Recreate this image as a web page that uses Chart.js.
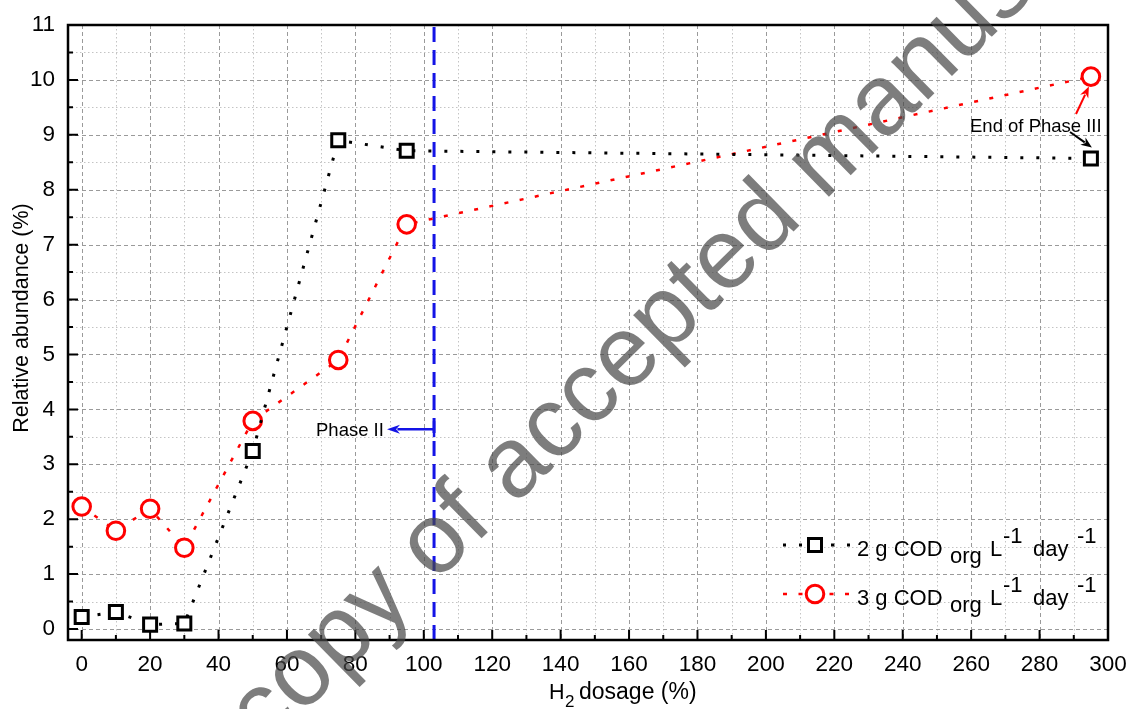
<!DOCTYPE html>
<html>
<head>
<meta charset="utf-8">
<script src="https://cdn.jsdelivr.net/npm/chart.js@4.4.1/dist/chart.umd.min.js"></script>
<style>
html,body{margin:0;padding:0;background:#fff;}
#wrap{width:1132px;height:709px;}
</style>
</head>
<body>
<div id="wrap"><canvas id="h2Chart" width="1132" height="709"></canvas></div>
<script>
// =========================================
// DATA
// =========================================

const dosage2g = [0, 10, 20, 30, 50, 75, 95, 295];
const abundance2g = [0.22, 0.31, 0.08, 0.10, 3.24, 8.90, 8.71, 8.57];

const dosage3g = [0, 10, 20, 30, 50, 75, 95, 295];
const abundance3g = [2.23, 1.79, 2.19, 1.48, 3.79, 4.90, 7.37, 10.06];

const xTickValues = [0,20,40,60,80,100,120,140,160,180,200,220,240,260,280,300];
const yTickValues = [0,1,2,3,4,5,6,7,8,9,10,11];

const phaseLineDosage = 103;

const FONT = "'Liberation Sans', Arial, sans-serif";

Chart.defaults.font.family = FONT;

// =========================================
// HELPERS
// =========================================

function arrow(ctx, x1, y1, x2, y2, color, width, headLen, headW){
    const a = Math.atan2(y2 - y1, x2 - x1);
    ctx.save();
    ctx.strokeStyle = color;
    ctx.fillStyle = color;
    ctx.lineWidth = width;
    ctx.setLineDash([]);
    ctx.beginPath();
    ctx.moveTo(x1, y1);
    ctx.lineTo(x2 - Math.cos(a) * headLen * 0.8, y2 - Math.sin(a) * headLen * 0.8);
    ctx.stroke();
    ctx.beginPath();
    ctx.moveTo(x2, y2);
    ctx.lineTo(x2 - Math.cos(a) * headLen - Math.sin(a) * headW, y2 - Math.sin(a) * headLen + Math.cos(a) * headW);
    ctx.lineTo(x2 - Math.cos(a) * headLen * 0.7, y2 - Math.sin(a) * headLen * 0.7);
    ctx.lineTo(x2 - Math.cos(a) * headLen + Math.sin(a) * headW, y2 - Math.sin(a) * headLen - Math.cos(a) * headW);
    ctx.closePath();
    ctx.fill();
    ctx.restore();
}

function drawParts(ctx, x0, baseline, parts){
    parts.forEach(p => {
        ctx.font = p.size + 'px ' + FONT;
        ctx.fillText(p.text, x0 + p.dx, baseline + (p.dy || 0));
    });
}

function legendRow(ctx, y, color, dash, lineW, style, label){
    ctx.save();
    ctx.strokeStyle = color;
    ctx.lineWidth = lineW;
    ctx.setLineDash(dash);
    ctx.beginPath();
    ctx.moveTo(783, y);
    ctx.lineTo(852, y);
    ctx.stroke();
    ctx.setLineDash([]);
    ctx.fillStyle = '#fff';
    ctx.lineWidth = 3;
    ctx.beginPath();
    if(style === 'rect'){
        ctx.rect(815 - 6.5, y - 6.5, 13, 13);
    }else{
        ctx.arc(815, y, 8.8, 0, Math.PI * 2);
    }
    ctx.fill();
    ctx.stroke();
    ctx.fillStyle = '#000';
    ctx.textAlign = 'left';
    ctx.textBaseline = 'alphabetic';
    drawParts(ctx, 857, y + 11, [
        {text: label + ' COD', size: 22, dx: 0},
        {text: 'org', size: 22, dx: 93, dy: 7},
        {text: 'L', size: 22, dx: 133},
        {text: '-1', size: 22, dx: 146, dy: -13},
        {text: 'day', size: 22, dx: 176},
        {text: '-1', size: 22, dx: 220, dy: -13}
    ]);
    ctx.restore();
}

// =========================================
// PLUGIN: GRID, FRAME, ANNOTATIONS
// =========================================

const decor = {
    id: 'decor',
    beforeDraw(chart){
        const {ctx, chartArea: a, scales: {x, y}} = chart;
        ctx.save();
        ctx.fillStyle = '#fff';
        ctx.fillRect(0, 0, chart.width, chart.height);

        // minor grid
        ctx.strokeStyle = '#c4c4c4';
        ctx.lineWidth = 1;
        ctx.setLineDash([1.5, 2.5]);
        ctx.beginPath();
        for(let v = 10; v < 300; v += 20){
            const px = Math.round(x.getPixelForValue(v)) + 0.5;
            ctx.moveTo(px, a.top); ctx.lineTo(px, a.bottom);
        }
        for(let v = 0.5; v < 11; v += 1){
            const py = Math.round(y.getPixelForValue(v)) + 0.5;
            ctx.moveTo(a.left, py); ctx.lineTo(a.right, py);
        }
        ctx.stroke();

        // major grid
        ctx.strokeStyle = '#9a9a9a';
        ctx.setLineDash([4, 3]);
        ctx.beginPath();
        for(let v = 0; v < 300; v += 20){
            const px = Math.round(x.getPixelForValue(v)) + 0.5;
            ctx.moveTo(px, a.top); ctx.lineTo(px, a.bottom);
        }
        for(let v = 0; v < 11; v += 1){
            const py = Math.round(y.getPixelForValue(v)) + 0.5;
            ctx.moveTo(a.left, py); ctx.lineTo(a.right, py);
        }
        ctx.stroke();
        ctx.restore();
    },
    beforeDatasetsDraw(chart){
        const {ctx, chartArea: a, scales: {x}} = chart;
        const px = x.getPixelForValue(phaseLineDosage);
        ctx.save();
        ctx.strokeStyle = '#1414e6';
        ctx.lineWidth = 3;
        ctx.setLineDash([15, 8]);
        ctx.beginPath();
        ctx.moveTo(px, a.bottom);
        ctx.lineTo(px, a.top);
        ctx.stroke();
        ctx.restore();
    },
    afterDraw(chart){
        const {ctx, chartArea: a, scales: {x, y}} = chart;
        ctx.save();

        // frame
        ctx.strokeStyle = '#000';
        ctx.lineWidth = 2.5;
        ctx.setLineDash([]);
        ctx.strokeRect(a.left, a.top, a.right - a.left, a.bottom - a.top);

        // inward ticks
        ctx.lineWidth = 2;
        ctx.beginPath();
        for(let v = 0; v <= 300; v += 10){
            const px = x.getPixelForValue(v);
            ctx.moveTo(px, a.bottom);
            ctx.lineTo(px, a.bottom - (v % 20 === 0 ? 10 : 5));
        }
        for(let v = 0; v <= 11; v += 0.5){
            const py = y.getPixelForValue(v);
            ctx.moveTo(a.left, py);
            ctx.lineTo(a.left + (v % 1 === 0 ? 10 : 5), py);
        }
        ctx.stroke();

        // axis titles
        ctx.fillStyle = '#000';
        ctx.textBaseline = 'alphabetic';
        ctx.textAlign = 'left';
        drawParts(ctx, 0, 699, [
            {text: 'H', size: 21.5, dx: 549},
            {text: '2', size: 17, dx: 565, dy: 8},
            {text: 'dosage (%)', size: 23, dx: 579}
        ]);
        ctx.save();
        ctx.translate(28, 318);
        ctx.rotate(-Math.PI / 2);
        ctx.textAlign = 'center';
        ctx.font = '21.5px ' + FONT;
        ctx.fillText('Relative abundance (%)', 0, 0);
        ctx.restore();

        // phase II annotation
        const lineX = x.getPixelForValue(phaseLineDosage);
        const p2y = y.getPixelForValue(3.64);
        ctx.font = '18.5px ' + FONT;
        ctx.textAlign = 'left';
        ctx.fillText('Phase II', 316, p2y + 7);
        arrow(ctx, lineX, p2y, 387, p2y, '#1414e6', 2.5, 13, 4.5);
        ctx.strokeStyle = '#1414e6';
        ctx.lineWidth = 2.5;
        ctx.beginPath();
        ctx.moveTo(lineX, p2y - 8);
        ctx.lineTo(lineX, p2y + 8);
        ctx.stroke();

        // end of phase III annotation
        const rx = x.getPixelForValue(dosage3g[7]);
        const ry = y.getPixelForValue(abundance3g[7]);
        const bx = x.getPixelForValue(dosage2g[7]);
        const by = y.getPixelForValue(abundance2g[7]);
        ctx.fillStyle = '#000';
        ctx.fillText('End of Phase III', 970, 132);
        arrow(ctx, 1076, 114, rx - 2, ry + 10, '#ff0000', 2, 11, 4.5);
        arrow(ctx, 1070, 132, bx + 1, by - 11, '#000000', 2, 11, 4.5);

        // legend
        legendRow(ctx, 545, '#000', [3, 13], 3, 'rect', '2 g');
        legendRow(ctx, 594, '#ff0000', [4, 11.5], 2.5, 'circle', '3 g');

        // watermark
        ctx.save();
        ctx.translate(265, 751);
        ctx.rotate(-44.5 * Math.PI / 180);
        ctx.font = '100px ' + FONT;
        ctx.fillStyle = 'rgba(70,70,70,0.7)';
        ctx.textAlign = 'left';
        ctx.fillText('copy of accepted manuscript', 0, 0);
        ctx.restore();

        ctx.restore();
    }
};

// =========================================
// CHART
// =========================================

const ctx = document.getElementById('h2Chart');

const chart = new Chart(ctx, {

    type: 'line',

    data: {
        datasets: [
            {
                label: '2 g COD org L-1 day-1',
                data: dosage2g.map((v, i) => ({x: v, y: abundance2g[i]})),
                borderColor: '#000',
                borderWidth: 3,
                borderDash: [3, 13],
                pointStyle: 'rect',
                pointRadius: 9.2,
                pointBorderWidth: 3,
                pointBorderColor: '#000',
                pointBackgroundColor: '#fff',
                tension: 0
            },
            {
                label: '3 g COD org L-1 day-1',
                data: dosage3g.map((v, i) => ({x: v, y: abundance3g[i]})),
                borderColor: '#ff0000',
                borderWidth: 2.5,
                borderDash: [4, 11.5],
                pointStyle: 'circle',
                pointRadius: 8.8,
                pointBorderWidth: 3,
                pointBorderColor: '#ff0000',
                pointBackgroundColor: '#fff',
                tension: 0
            }
        ]
    },

    options: {
        responsive: false,
        animation: false,
        layout: {
            padding: {left: 0, right: 24, top: 25, bottom: 0}
        },
        plugins: {
            legend: {display: false},
            tooltip: {enabled: false}
        },
        scales: {
            x: {
                type: 'linear',
                min: -4,
                max: 300,
                grid: {display: false, drawTicks: false},
                border: {display: false},
                afterBuildTicks: s => { s.ticks = xTickValues.map(v => ({value: v})); },
                afterFit: s => {
                    s.height = 69;
                    s.paddingLeft = 0;
                    s.paddingRight = 0;
                },
                ticks: {
                    color: '#000',
                    padding: 11,
                    maxRotation: 0,
                    autoSkip: false,
                    font: {size: 22.5}
                }
            },
            y: {
                min: -0.2,
                max: 11,
                grid: {display: false, drawTicks: false},
                border: {display: false},
                afterBuildTicks: s => { s.ticks = yTickValues.map(v => ({value: v})); },
                afterFit: s => {
                    s.width = 68;
                    s.paddingTop = 0;
                    s.paddingBottom = 0;
                },
                ticks: {
                    color: '#000',
                    padding: 13,
                    autoSkip: false,
                    font: {size: 22.5}
                }
            }
        }
    },

    plugins: [decor]
});
</script>
</body>
</html>
